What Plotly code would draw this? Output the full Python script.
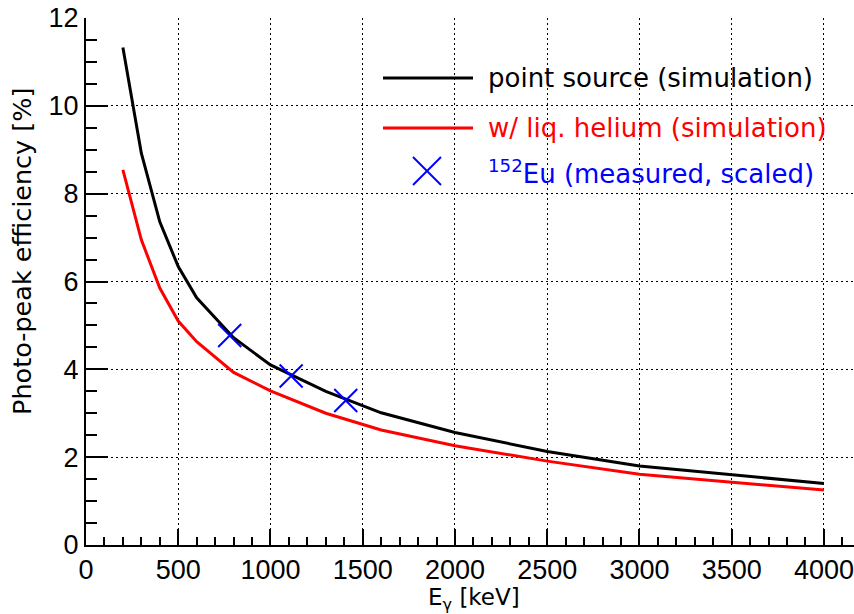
import plotly.graph_objects as go

# Simulated photo-peak efficiency vs gamma energy
energy_kev = [200, 300, 400, 500, 600, 800, 1000, 1300, 1600, 2000, 2500, 3000, 4000]
eff_point_source = [11.33, 8.92, 7.36, 6.34, 5.63, 4.72, 4.10, 3.50, 3.01, 2.56, 2.13, 1.80, 1.40]
eff_liq_helium = [8.54, 6.95, 5.85, 5.10, 4.63, 3.93, 3.51, 3.00, 2.62, 2.26, 1.91, 1.61, 1.25]

# 152Eu lines (measured, scaled)
eu_energy_kev = [779, 1112, 1408]
eu_eff = [4.77, 3.85, 3.29]

x_ticks = [0, 500, 1000, 1500, 2000, 2500, 3000, 3500, 4000]
y_ticks = [0, 2, 4, 6, 8, 10, 12]

legend_labels = [
    "point source (simulation)",
    "w/ liq. helium (simulation)",
    "<sup>152</sup>Eu (measured, scaled)",
]

W, H = 854, 614
L, R, T, B = 86, 0, 18, 69
PW, PH = W - L - R, H - T - B


def px(xp):
    return (xp - L) / PW


def py(yp):
    return (H - B - yp) / PH


TEXT_FONT = "DejaVu Sans"
TICK_FONT = "Liberation Sans, Arial"

fig = go.Figure()
fig.add_trace(go.Scatter(x=energy_kev, y=eff_point_source, mode="lines",
                         line=dict(color="black", width=3), showlegend=False))
fig.add_trace(go.Scatter(x=energy_kev, y=eff_liq_helium, mode="lines",
                         line=dict(color="#ff0000", width=3), showlegend=False))
fig.add_trace(go.Scatter(x=eu_energy_kev, y=eu_eff, mode="markers",
                         marker=dict(symbol="x-thin-open", size=23, color="#0000ff",
                                     line=dict(color="#0000ff", width=2)),
                         showlegend=False))

axis_common = dict(
    showgrid=True, gridcolor="black", gridwidth=1, griddash="2px,3px",
    zeroline=False, showline=True, linecolor="black", linewidth=2,
    ticks="inside", tickcolor="black", tickwidth=1.5,
    tickfont=dict(family=TICK_FONT, size=27, color="black"),
)

fig.update_xaxes(range=[0, 4163], tickvals=x_ticks, ticklen=16,
                 minor=dict(dtick=100, ticks="inside", ticklen=8, tickcolor="black",
                            tickwidth=1.5, showgrid=False),
                 **axis_common)
fig.update_yaxes(range=[0, 12], tickvals=y_ticks, ticklen=22,
                 minor=dict(dtick=0.5, ticks="inside", ticklen=11, tickcolor="black",
                            tickwidth=1.5, showgrid=False),
                 **axis_common)

annotations = [
    dict(text="Photo-peak efficiency [%]", xref="paper", yref="paper",
         x=px(22), y=py(252), textangle=-90, showarrow=False,
         font=dict(family=TEXT_FONT, size=25.5, color="black"),
         xanchor="center", yanchor="middle"),
    dict(text="E<sub>γ</sub> [keV]", xref="paper", yref="paper",
         x=px(474), y=py(599), showarrow=False,
         font=dict(family=TEXT_FONT, size=23, color="black"),
         xanchor="center", yanchor="middle"),
]

legend_colors = ["black", "#ff0000", "#0000ff"]
legend_y = [78, 128, 172]
for label, color, yy in zip(legend_labels, legend_colors, legend_y):
    annotations.append(dict(text=label, xref="paper", yref="paper",
                            x=px(486), y=py(yy), showarrow=False,
                            xanchor="left", yanchor="middle",
                            font=dict(family=TEXT_FONT, size=26, color=color)))

shapes = [
    dict(type="line", xref="paper", yref="paper", x0=px(383), x1=px(473),
         y0=py(78), y1=py(78), line=dict(color="black", width=3)),
    dict(type="line", xref="paper", yref="paper", x0=px(383), x1=px(473),
         y0=py(128), y1=py(128), line=dict(color="#ff0000", width=3)),
    dict(type="line", xref="paper", yref="paper", x0=px(413), x1=px(441),
         y0=py(157), y1=py(185), line=dict(color="#0000ff", width=2)),
    dict(type="line", xref="paper", yref="paper", x0=px(413), x1=px(441),
         y0=py(185), y1=py(157), line=dict(color="#0000ff", width=2)),
]

fig.update_layout(
    width=W, height=H,
    margin=dict(l=L, r=R, t=T, b=B, pad=0),
    paper_bgcolor="white", plot_bgcolor="white",
    annotations=annotations, shapes=shapes,
    showlegend=False,
)

fig.write_html("out.html")
